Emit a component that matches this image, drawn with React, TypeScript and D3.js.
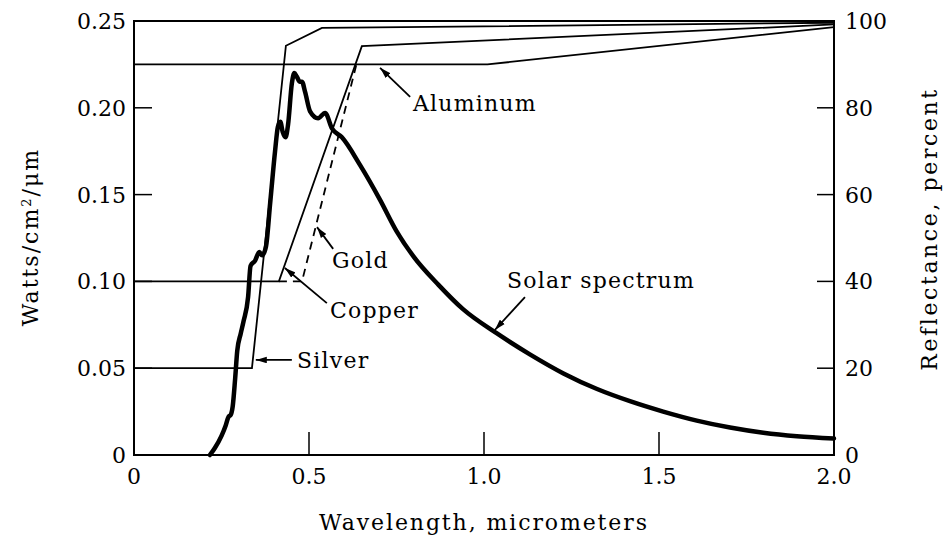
import React from 'react';
import * as d3 from 'd3';

const width = 943;
const height = 539;
const margin = { top: 21, right: 109, bottom: 84, left: 134 };

// axis ticks
const xTicks = [0, 0.5, 1.0, 1.5, 2.0];
const xTickLabels = ['0', '0.5', '1.0', '1.5', '2.0'];
const wattTicks = [0, 0.05, 0.1, 0.15, 0.2, 0.25];
const wattTickLabels = ['0', '0.05', '0.10', '0.15', '0.20', '0.25'];
const reflTicks = [0, 20, 40, 60, 80, 100];

// solar spectrum, W/cm2/um
const solarWavelength = [
  0.217, 0.231, 0.25, 0.262, 0.27, 0.276, 0.282, 0.289, 0.295, 0.305, 0.313, 0.326, 0.333,
  0.346, 0.358, 0.366, 0.377, 0.389, 0.403, 0.411, 0.418, 0.425, 0.433, 0.44, 0.451, 0.458,
  0.465, 0.474, 0.48, 0.489, 0.503, 0.526, 0.546, 0.566, 0.594, 0.646, 0.703, 0.75, 0.8,
  0.87, 0.94, 1.037, 1.131, 1.227, 1.323, 1.417, 1.512, 1.608, 1.703, 1.798, 1.894, 2.0,
];
const solarWatts = [
  0, 0.004, 0.011, 0.017, 0.022, 0.023, 0.028, 0.044, 0.06, 0.07, 0.077, 0.091, 0.109,
  0.112, 0.117, 0.115, 0.12, 0.145, 0.175, 0.189, 0.192, 0.186, 0.183, 0.19, 0.214, 0.22,
  0.218, 0.215, 0.215, 0.209, 0.198, 0.194, 0.197, 0.188, 0.183, 0.167, 0.147, 0.129, 0.114,
  0.098, 0.084, 0.07, 0.058, 0.047, 0.038, 0.031, 0.025, 0.0198, 0.0158, 0.0128, 0.0108, 0.0095,
];

// reflectance, percent
const aluminumWavelength = [0, 1.01, 2.0];
const aluminumRefl = [90, 90, 98.6];
const silverWavelength = [0, 0.337, 0.434, 0.537, 2.0];
const silverRefl = [20, 20, 94.3, 98.4, 99.6];
const copperWavelength = [0, 0.414, 0.651, 2.0];
const copperRefl = [40, 40, 94.2, 99.2];
const goldWavelength = [0.414, 0.48, 0.637];
const goldRefl = [40, 40, 90.5];

// callouts in (wavelength, reflectance) units
const calloutLabels = ['Aluminum', 'Gold', 'Copper', 'Silver', 'Solar spectrum'];
const calloutTextX = [0.797, 0.566, 0.56, 0.466, 1.066];
const calloutTextY = [79.3, 43.1, 31.6, 20.0, 38.5];
const calloutTailX = [0.789, 0.569, 0.551, 0.451, 1.117];
const calloutTailY = [82.5, 47.5, 35.0, 21.9, 36.4];
const calloutTipX = [0.703, 0.523, 0.431, 0.348, 1.031];
const calloutTipY = [89.2, 52.5, 43.1, 21.9, 28.8];

const serif = "'DejaVu Serif', 'Liberation Serif', serif";

const zip = (xs: number[], ys: number[]) => xs.map((x, i) => [x, ys[i]] as [number, number]);

export default function App() {
  const x = d3.scaleLinear().domain([0, 2]).range([margin.left, width - margin.right]);
  const yW = d3.scaleLinear().domain([0, 0.25]).range([height - margin.bottom, margin.top]);
  const yR = d3.scaleLinear().domain([0, 100]).range([height - margin.bottom, margin.top]);

  const solarLine = d3.line<[number, number]>()
    .x(d => x(d[0]))
    .y(d => yW(d[1]))
    .curve(d3.curveMonotoneX);
  const reflLine = d3.line<[number, number]>()
    .x(d => x(d[0]))
    .y(d => yR(d[1]));

  const x0 = x(0), x1 = x(2), yb = yW(0), yt = yW(0.25);

  return (
    <svg width={width} height={height} style={{ position: 'absolute', left: 0, top: 0, background: '#fff', fontFamily: serif }}>
      <defs>
        <marker id="arrow" viewBox="0 0 10 6" refX="10" refY="3" markerWidth="11" markerHeight="7"
          markerUnits="userSpaceOnUse" orient="auto">
          <path d="M0,0 L10,3 L0,6 Z" fill="#000" />
        </marker>
      </defs>

      {/* reflectance curves */}
      <g fill="none" stroke="#000" strokeWidth={1.8}>
        <path d={reflLine(zip(aluminumWavelength, aluminumRefl)) || ''} />
        <path d={reflLine(zip(silverWavelength, silverRefl)) || ''} />
        <path d={reflLine(zip(copperWavelength, copperRefl)) || ''} />
        <path d={reflLine(zip(goldWavelength, goldRefl)) || ''} strokeDasharray="8,6" />
      </g>

      {/* solar spectrum */}
      <path d={solarLine(zip(solarWavelength, solarWatts)) || ''} fill="none" stroke="#000"
        strokeWidth={4.5} strokeLinejoin="round" strokeLinecap="round" />

      {/* frame */}
      <rect x={x0} y={yt} width={x1 - x0} height={yb - yt} fill="none" stroke="#000" strokeWidth={2} />

      {/* ticks */}
      <g stroke="#000" strokeWidth={1.5}>
        {xTicks.slice(1, -1).map(t => (
          <line key={'xt' + t} x1={x(t)} x2={x(t)} y1={yb} y2={yb - 23} />
        ))}
        {wattTicks.slice(1, -1).map(t => (
          <line key={'wt' + t} x1={x0} x2={x0 + 18} y1={yW(t)} y2={yW(t)} />
        ))}
        {reflTicks.slice(1, -1).map(t => (
          <line key={'rt' + t} x1={x1} x2={x1 - 17} y1={yR(t)} y2={yR(t)} />
        ))}
      </g>

      {/* tick labels */}
      <g fontSize={22} fill="#000" style={{ fontFamily: serif }}>
        {xTicks.map((t, i) => (
          <text key={'xl' + t} x={x(t)} y={yb + 29} textAnchor="middle">{xTickLabels[i]}</text>
        ))}
        {wattTicks.map((t, i) => (
          <text key={'wl' + t} x={x0 - 8} y={yW(t)} dy="0.36em" textAnchor="end">{wattTickLabels[i]}</text>
        ))}
        {reflTicks.map(t => (
          <text key={'rl' + t} x={x1 + 11} y={yR(t)} dy="0.36em" textAnchor="start">{t}</text>
        ))}
      </g>

      {/* axis titles */}
      <g style={{ fontFamily: serif }} fontSize={22}>
        <text x={(x0 + x1) / 2} y={530} textAnchor="middle" letterSpacing={1.9}>
          Wavelength, micrometers
        </text>
        <text transform="translate(30,237) rotate(-90)" textAnchor="middle" dy="0.36em" letterSpacing={2}>
          Watts/cm<tspan baselineShift="super" fontSize={13}>2</tspan>/μm
        </text>
        <text transform="translate(929,229) rotate(-90)" textAnchor="middle" dy="0.36em" letterSpacing={2.6}>
          Reflectance, percent
        </text>
      </g>

      {/* callouts */}
      {calloutLabels.map((label, i) => (
        <g key={label}>
          <line x1={x(calloutTailX[i])} y1={yR(calloutTailY[i])} x2={x(calloutTipX[i])} y2={yR(calloutTipY[i])}
            stroke="#000" strokeWidth={1.8} markerEnd="url(#arrow)" />
          <text x={x(calloutTextX[i])} y={yR(calloutTextY[i])} fontSize={22} letterSpacing={1.2}
            style={{ fontFamily: serif }}>{label}</text>
        </g>
      ))}
    </svg>
  );
}
